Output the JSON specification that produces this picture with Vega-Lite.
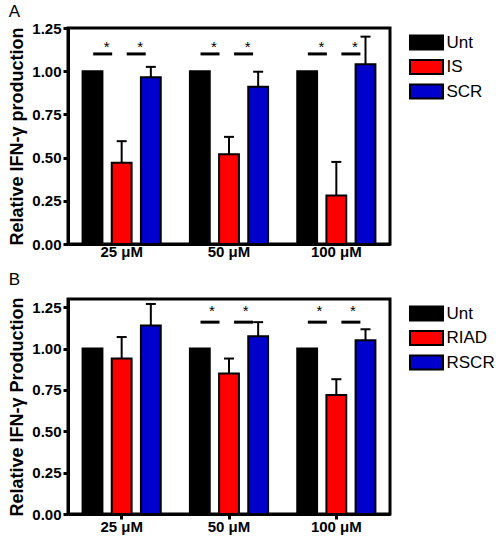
{
  "$schema": "https://vega.github.io/schema/vega-lite/v6.json",
  "padding": {"left": 7, "top": 1, "right": 2, "bottom": 2},
  "config": {
    "font": "Liberation Sans",
    "view": {"stroke": "black", "strokeWidth": 3},
    "axis": {"grid": false, "domainColor": "black", "domainWidth": 3, "tickColor": "black", "tickWidth": 3, "tickSize": 5, "labelFont": "Liberation Sans", "labelFontWeight": "bold", "labelFontSize": 15, "labelColor": "black", "titleFont": "Liberation Sans", "titleFontSize": 18, "titleFontWeight": "bold", "titleColor": "black"},
    "legend": {"orient": "right", "offset": 21.5, "padding": 6, "symbolType": "M-2.36,-1H2.36V1H-2.36Z", "symbolSize": 196, "symbolStrokeColor": "black", "symbolStrokeWidth": 2, "symbolOpacity": 1, "labelFont": "Liberation Sans", "labelFontSize": 17, "labelColor": "black", "rowPadding": 1.5, "labelOffset": 11.5},
    "title": {"font": "Liberation Sans", "fontSize": 17, "fontWeight": "normal", "anchor": "start", "color": "black"},
    "concat": {"spacing": 8}
  },
  "resolve": {"scale": {"color": "independent", "y": "independent", "x": "independent", "xOffset": "independent"}},
  "vconcat": [
    {
      "title": {"text": "A", "offset": 0},
      "width": 322,
      "height": 216,
      "data": {"values": [
        {"dose": "25 μM", "treatment": "Unt", "value": 1.0, "hi": null},
        {"dose": "25 μM", "treatment": "IS", "value": 0.47, "hi": 0.595},
        {"dose": "25 μM", "treatment": "SCR", "value": 0.965, "hi": 1.025},
        {"dose": "50 μM", "treatment": "Unt", "value": 1.0, "hi": null},
        {"dose": "50 μM", "treatment": "IS", "value": 0.52, "hi": 0.62},
        {"dose": "50 μM", "treatment": "SCR", "value": 0.91, "hi": 0.997},
        {"dose": "100 μM", "treatment": "Unt", "value": 1.0, "hi": null},
        {"dose": "100 μM", "treatment": "IS", "value": 0.28, "hi": 0.475},
        {"dose": "100 μM", "treatment": "SCR", "value": 1.04, "hi": 1.2}
      ]},
      "resolve": {"scale": {"xOffset": "independent"}},
      "encoding": {
        "x": {"field": "dose", "type": "nominal", "sort": ["25 μM", "50 μM", "100 μM"], "scale": {"paddingInner": 0, "paddingOuter": 0}, "axis": {"title": null, "labelAngle": 0, "ticks": false, "labelPadding": 0}},
        "xOffset": {"field": "treatment", "type": "nominal", "scale": {"domain": ["Unt", "IS", "SCR"], "paddingInner": 0.32, "paddingOuter": 0.5}}
      },
      "layer": [
        {
          "mark": {"type": "bar", "stroke": "black", "strokeWidth": 2},
          "encoding": {
            "y": {"field": "value", "type": "quantitative", "scale": {"domain": [0, 1.25], "nice": false}, "axis": {"values": [0, 0.25, 0.5, 0.75, 1, 1.25], "format": ".2f", "title": "Relative IFN-γ production", "titlePadding": 5, "labelPadding": 2}},
            "color": {"field": "treatment", "type": "nominal", "scale": {"domain": ["Unt", "IS", "SCR"], "range": ["#000000", "#FF0000", "#0000CC"]}, "legend": {"title": null}}
          }
        },
        {
          "transform": [{"filter": "datum.hi != null"}],
          "mark": {"type": "rule", "color": "black", "strokeWidth": 2},
          "encoding": {"y": {"field": "value", "type": "quantitative"}, "y2": {"field": "hi"}}
        },
        {
          "transform": [{"filter": "datum.hi != null"}],
          "mark": {"type": "tick", "color": "black", "thickness": 2, "size": 10, "opacity": 1},
          "encoding": {"y": {"field": "hi", "type": "quantitative"}}
        },
        {
          "data": {"values": [
            {"dose": "25 μM", "from": "Unt", "y": 1.1},
            {"dose": "25 μM", "from": "IS", "y": 1.1},
            {"dose": "50 μM", "from": "Unt", "y": 1.1},
            {"dose": "50 μM", "from": "IS", "y": 1.1},
            {"dose": "100 μM", "from": "Unt", "y": 1.1},
            {"dose": "100 μM", "from": "IS", "y": 1.1}
          ]},
          "encoding": {
            "xOffset": {"field": "from", "type": "nominal", "scale": {"domain": ["Unt", "IS"], "paddingInner": 0, "paddingOuter": 0.6, "align": 0.445}},
            "y": {"field": "y", "type": "quantitative"}
          },
          "layer": [
            {"mark": {"type": "tick", "color": "black", "thickness": 3, "size": 19, "opacity": 1}},
            {"mark": {"type": "text", "text": "*", "fontSize": 15, "color": "black", "baseline": "alphabetic", "dy": -2, "dx": 4}}
          ]
        }
      ]
    },
    {
      "title": {"text": "B", "offset": 8},
      "width": 322,
      "height": 215,
      "data": {"values": [
        {"dose": "25 μM", "treatment": "Unt", "value": 1.0, "hi": null},
        {"dose": "25 μM", "treatment": "RIAD", "value": 0.94, "hi": 1.07},
        {"dose": "25 μM", "treatment": "RSCR", "value": 1.14, "hi": 1.27},
        {"dose": "50 μM", "treatment": "Unt", "value": 1.0, "hi": null},
        {"dose": "50 μM", "treatment": "RIAD", "value": 0.85, "hi": 0.94},
        {"dose": "50 μM", "treatment": "RSCR", "value": 1.075, "hi": 1.16},
        {"dose": "100 μM", "treatment": "Unt", "value": 1.0, "hi": null},
        {"dose": "100 μM", "treatment": "RIAD", "value": 0.72, "hi": 0.815},
        {"dose": "100 μM", "treatment": "RSCR", "value": 1.05, "hi": 1.117}
      ]},
      "resolve": {"scale": {"xOffset": "independent"}},
      "encoding": {
        "x": {"field": "dose", "type": "nominal", "sort": ["25 μM", "50 μM", "100 μM"], "scale": {"paddingInner": 0, "paddingOuter": 0}, "axis": {"title": null, "labelAngle": 0, "ticks": true, "labelPadding": 0}},
        "xOffset": {"field": "treatment", "type": "nominal", "scale": {"domain": ["Unt", "RIAD", "RSCR"], "paddingInner": 0.32, "paddingOuter": 0.5}}
      },
      "layer": [
        {
          "mark": {"type": "bar", "stroke": "black", "strokeWidth": 2},
          "encoding": {
            "y": {"field": "value", "type": "quantitative", "scale": {"domain": [0, 1.3], "nice": false}, "axis": {"values": [0, 0.25, 0.5, 0.75, 1, 1.25], "format": ".2f", "title": "Relative IFN-γ Production", "titlePadding": 5, "labelPadding": 2}},
            "color": {"field": "treatment", "type": "nominal", "scale": {"domain": ["Unt", "RIAD", "RSCR"], "range": ["#000000", "#FF0000", "#0000CC"]}, "legend": {"title": null}}
          }
        },
        {
          "transform": [{"filter": "datum.hi != null"}],
          "mark": {"type": "rule", "color": "black", "strokeWidth": 2},
          "encoding": {"y": {"field": "value", "type": "quantitative"}, "y2": {"field": "hi"}}
        },
        {
          "transform": [{"filter": "datum.hi != null"}],
          "mark": {"type": "tick", "color": "black", "thickness": 2, "size": 10, "opacity": 1},
          "encoding": {"y": {"field": "hi", "type": "quantitative"}}
        },
        {
          "data": {"values": [
            {"dose": "50 μM", "from": "Unt", "y": 1.16},
            {"dose": "50 μM", "from": "RIAD", "y": 1.16},
            {"dose": "100 μM", "from": "Unt", "y": 1.16},
            {"dose": "100 μM", "from": "RIAD", "y": 1.16}
          ]},
          "encoding": {
            "xOffset": {"field": "from", "type": "nominal", "scale": {"domain": ["Unt", "RIAD"], "paddingInner": 0, "paddingOuter": 0.6, "align": 0.445}},
            "y": {"field": "y", "type": "quantitative"}
          },
          "layer": [
            {"mark": {"type": "tick", "color": "black", "thickness": 3, "size": 19, "opacity": 1}},
            {"mark": {"type": "text", "text": "*", "fontSize": 15, "color": "black", "baseline": "alphabetic", "dy": -6, "dx": 2}}
          ]
        }
      ]
    }
  ]
}
